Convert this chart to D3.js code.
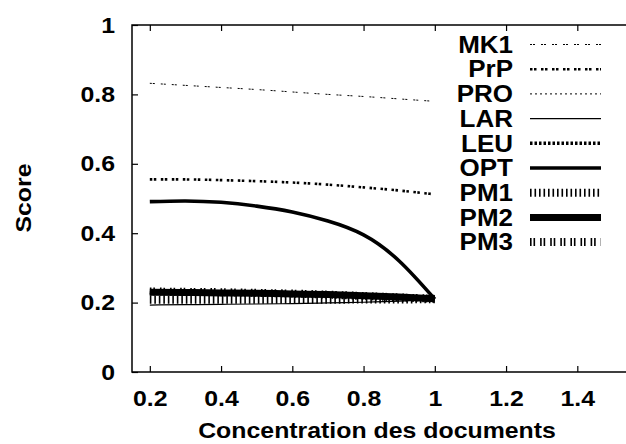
<!DOCTYPE html>
<html>
<head>
<meta charset="utf-8">
<script src="https://cdn.jsdelivr.net/npm/d3@7"></script>
<style>
  html, body { margin: 0; padding: 0; background: #fff; }
  svg { display: block; }
  text { font-family: "Liberation Sans", Arial, Helvetica, sans-serif; font-weight: bold; fill: #000; }
</style>
</head>
<body>
<svg id="chart" width="626" height="444"></svg>
<script>
// ---- data ----
const xValues = [0.2, 0.3, 0.4, 0.5, 0.6, 0.7, 0.8, 0.9, 1.0];
const seriesNames = ["MK1", "PrP", "PRO", "LAR", "LEU", "OPT", "PM1", "PM2", "PM3"];
const MK1 = [0.832, 0.826, 0.820, 0.814, 0.807, 0.800, 0.794, 0.787, 0.780];
const PrP = [0.555, 0.555, 0.553, 0.550, 0.546, 0.540, 0.532, 0.523, 0.512];
const PRO = [0.226, 0.226, 0.225, 0.224, 0.223, 0.221, 0.218, 0.215, 0.210];
const LAR = [0.193, 0.194, 0.195, 0.196, 0.197, 0.199, 0.201, 0.204, 0.210];
const LEU = [0.228, 0.228, 0.227, 0.226, 0.224, 0.222, 0.219, 0.215, 0.211];
const OPT = [0.491, 0.493, 0.489, 0.478, 0.461, 0.435, 0.395, 0.320, 0.210];
const PM1 = [0.208, 0.208, 0.208, 0.208, 0.208, 0.208, 0.209, 0.209, 0.210];
const PM2 = [0.2295, 0.229, 0.228, 0.227, 0.225, 0.223, 0.220, 0.216, 0.211];
const PM3 = [0.232, 0.231, 0.230, 0.228, 0.226, 0.223, 0.219, 0.215, 0.211];
const xTicks = [0.2, 0.4, 0.6, 0.8, 1.0, 1.2, 1.4];
const xTickLabels = ["0.2", "0.4", "0.6", "0.8", "1", "1.2", "1.4"];
const yTicks = [0, 0.2, 0.4, 0.6, 0.8, 1.0];
const yTickLabels = ["0", "0.2", "0.4", "0.6", "0.8", "1"];
const xTitle = "Concentration des documents";
const yTitle = "Score";

// ---- styles ----
const seriesValues = { MK1, PrP, PRO, LAR, LEU, OPT, PM1, PM2, PM3 };
const styles = {
  MK1: { w: 1.0, dash: "2,1,2,6" },
  PrP: { w: 2.6, dash: "2.5,1.5,2.5,4.5" },
  PRO: { w: 1.0, dash: "2,3" },
  LAR: { w: 1.2, dash: null },
  LEU: { w: 3.5, dash: "2.5,2" },
  OPT: { w: 3.6, dash: null },
  PM1: { w: 8, dash: "1.6,2.9" },
  PM2: { w: 7, dash: null },
  PM3: { w: 8, dash: "1.6,1.9,1.6,5" }
};
const SX = 1.13; // glyph widening to match reference font
const FS = 22;

const svg = d3.select("#chart");
const plotLeft = 132, plotTop = 25, plotBottom = 372;
const x = d3.scaleLinear().domain([0.15, 1.55]).range([plotLeft, plotLeft + 1.4 * 356.25]);
const y = d3.scaleLinear().domain([0, 1]).range([plotBottom, plotTop]);

// axes
const gx = svg.append("g").attr("transform", `translate(0,${plotBottom})`)
  .call(d3.axisBottom(x).tickValues(xTicks).tickSizeInner(-6).tickSizeOuter(0).tickPadding(18)
    .tickFormat((d, i) => xTickLabels[i]));
gx.select(".domain").remove();
gx.selectAll(".tick line").attr("stroke", "#000").attr("stroke-width", 1.2);
gx.selectAll(".tick text").attr("font-size", FS).attr("font-family", null)
  .attr("transform", `scale(${SX},1)`);

const gt = svg.append("g").attr("transform", `translate(0,${plotTop})`)
  .call(d3.axisTop(x).tickValues(xTicks).tickSizeInner(-6).tickSizeOuter(0).tickFormat(() => ""));
gt.select(".domain").remove();
gt.selectAll(".tick line").attr("stroke", "#000").attr("stroke-width", 1.2);

const gy = svg.append("g").attr("transform", `translate(${plotLeft},0)`)
  .call(d3.axisLeft(y).tickValues(yTicks).tickSizeInner(-6).tickSizeOuter(0).tickPadding(15)
    .tickFormat((d, i) => yTickLabels[i]));
gy.select(".domain").remove();
gy.selectAll(".tick line").attr("stroke", "#000").attr("stroke-width", 1.2);
gy.selectAll(".tick text").attr("font-size", FS).attr("font-family", null)
  .attr("transform", `scale(${SX},1)`);

// frame
svg.append("path")
  .attr("d", `M${x.range()[1]},${plotTop}H${plotLeft}V${plotBottom}H${x.range()[1]}`)
  .attr("fill", "none").attr("stroke", "#000").attr("stroke-width", 1.5);

// lines
const line = d3.line().x((d, i) => x(xValues[i])).y(d => y(d)).curve(d3.curveNatural);
seriesNames.forEach(name => {
  const st = styles[name];
  svg.append("path")
    .datum(seriesValues[name])
    .attr("d", line)
    .attr("fill", "none")
    .attr("stroke", "#000")
    .attr("stroke-width", st.w)
    .attr("stroke-dasharray", st.dash)
    .attr("stroke-linecap", "butt");
});

// legend
const legX0 = 530, legX1 = 601, legLabelX = 513, legY0 = 44.5, legStep = 24.7;
seriesNames.forEach((name, i) => {
  const st = styles[name];
  const yy = legY0 + i * legStep;
  svg.append("line")
    .attr("x1", legX0).attr("x2", legX1).attr("y1", yy).attr("y2", yy)
    .attr("stroke", "#000").attr("stroke-width", st.w)
    .attr("stroke-dasharray", st.dash);
  svg.append("text")
    .attr("transform", `translate(${legLabelX},${yy}) scale(${SX},1)`)
    .attr("text-anchor", "end").attr("dy", "0.36em")
    .attr("font-size", FS + 1)
    .text(name);
});

// titles
svg.append("text")
  .attr("transform", `translate(377,438) scale(${SX},1)`)
  .attr("text-anchor", "middle").attr("font-size", FS)
  .text(xTitle);
svg.append("text")
  .attr("transform", `translate(31,198) rotate(-90) scale(${SX},1)`)
  .attr("text-anchor", "middle").attr("font-size", FS)
  .text(yTitle);
</script>
</body>
</html>
